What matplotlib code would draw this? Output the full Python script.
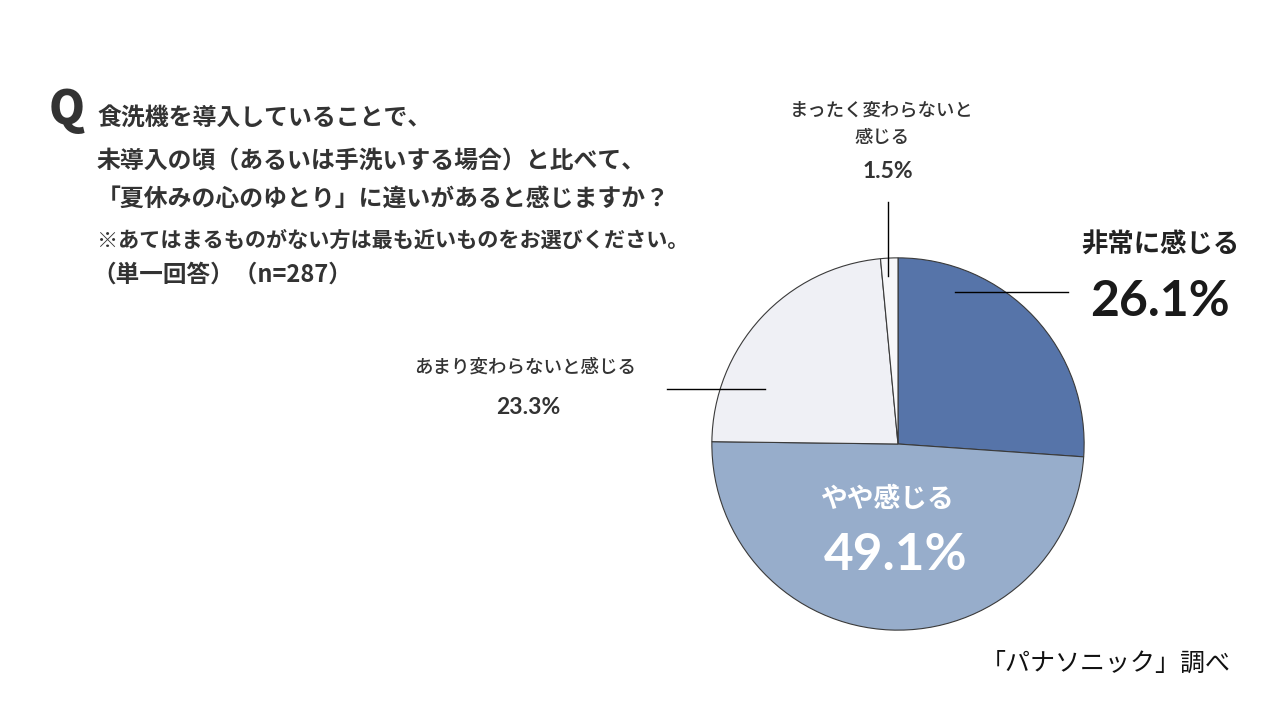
import matplotlib
matplotlib.use("Agg")
import matplotlib.pyplot as plt
from matplotlib.lines import Line2D

plt.rcParams['font.family'] = ['Noto Sans CJK JP', 'DejaVu Sans']

# Data
categories = ["非常に感じる", "やや感じる", "あまり変わらないと感じる", "まったく変わらないと感じる"]
values = [26.1, 49.1, 23.3, 1.5]
colors = ["#5674a9", "#97adcb", "#eff0f5", "#f7f7f9"]
pct_labels = ["26.1%", "49.1%", "23.3%", "1.5%"]

question_lines = [
    "食洗機を導入していることで、",
    "未導入の頃（あるいは手洗いする場合）と比べて、",
    "「夏休みの心のゆとり」に違いがあると感じますか？",
]
note_line = "※あてはまるものがない方は最も近いものをお選びください。"
sample_line = "（単一回答）（n=287）"
source_text = "「パナソニック」調べ"

W, H = 1280, 720
fig = plt.figure(figsize=(W / 100, H / 100), dpi=100)
fig.patch.set_facecolor("white")

def px(x, y):
    return x / W, 1 - y / H

# Pie axes
cx, cy, r = 898, 444, 188
ax = fig.add_axes([(cx - r) / W, (H - cy - r) / H, 2 * r / W, 2 * r / H])
ax.pie(values, colors=colors, startangle=90, counterclock=False,
       wedgeprops=dict(edgecolor="#3a3a3a", linewidth=0.8))
ax.set_xlim(-1.01, 1.01)
ax.set_ylim(-1.01, 1.01)
ax.set_aspect("equal")
ax.axis("off")

txt = "#333333"
num_font = ['Lato', 'Noto Sans CJK JP']

# Title
fig.text(*px(67, 110), "Q", fontsize=33, fontweight="black", color=txt,
         ha="center", va="center", family=['Noto Sans CJK JP'])
ys = [118, 161, 199]
for line, y in zip(question_lines, ys):
    fig.text(*px(97, y), line, fontsize=17.2, fontweight="bold", color=txt,
             ha="left", va="center")
fig.text(*px(97, 240), note_line, fontsize=15.2, fontweight="bold", color=txt,
         ha="left", va="center")
fig.text(*px(92, 275), sample_line, fontsize=17, fontweight="bold", color=txt,
         ha="left", va="center")

# Labels
fig.text(*px(1160, 245), categories[0], fontsize=19, fontweight="bold", color="#222222",
         ha="center", va="center")
fig.text(*px(1160, 301), pct_labels[0], fontsize=36, fontweight="bold", color="#1a1a1a",
         ha="center", va="center", family=num_font)

fig.text(*px(888, 499), categories[1], fontsize=19.3, fontweight="bold", color="white",
         ha="center", va="center")
fig.text(*px(896, 555), pct_labels[1], fontsize=37, fontweight="bold", color="white",
         ha="center", va="center", family=num_font)

fig.text(*px(525, 367), categories[2], fontsize=13.3, fontweight="medium", color=txt,
         ha="center", va="center")
fig.text(*px(528, 408), pct_labels[2], fontsize=16.5, fontweight="bold", color=txt,
         ha="center", va="center", family=num_font)

fig.text(*px(882, 110), "まったく変わらないと", fontsize=13.2, fontweight="medium", color=txt,
         ha="center", va="center")
fig.text(*px(882, 138), "感じる", fontsize=13.2, fontweight="medium", color=txt,
         ha="center", va="center")
fig.text(*px(888, 172), pct_labels[3], fontsize=16.5, fontweight="bold", color=txt,
         ha="center", va="center", family=num_font)

fig.text(*px(1106, 664), source_text, fontsize=18, color="#111111",
         ha="center", va="center")

# Leader lines
def line(x0, y0, x1, y1):
    (a, b), (c, d) = px(x0, y0), px(x1, y1)
    fig.add_artist(Line2D([a, c], [b, d], color="black", linewidth=1.0,
                          transform=fig.transFigure))

line(955, 292, 1068, 292)
line(667, 389, 765, 389)
line(888, 202, 888, 276)

fig.savefig("out.png", dpi=100, facecolor="white")
